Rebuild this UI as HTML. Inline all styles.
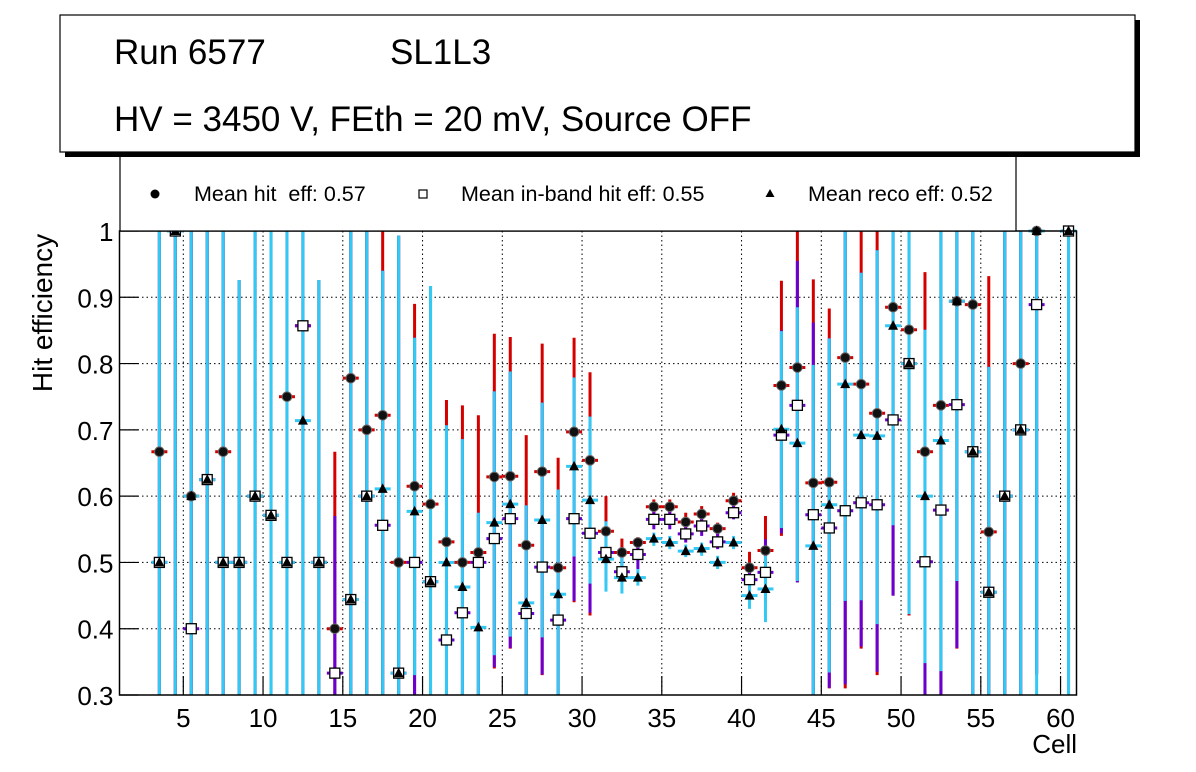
<!DOCTYPE html>
<html><head><meta charset="utf-8">
<style>
body{margin:0;background:#fff;}
svg{display:block;font-family:"Liberation Sans",sans-serif;}
</style></head>
<body>
<svg id="chart" width="1196" height="772" viewBox="0 0 1196 772" xmlns="http://www.w3.org/2000/svg">
  <rect x="0" y="0" width="1196" height="772" fill="#fff"/>
  <g id="grid"></g>
  <g id="bars"></g>
  <g id="marks"></g>
  <rect x="119.5" y="231" width="957" height="464" fill="none" stroke="#000" stroke-width="1.5"/>
  <g id="axes"></g>
  <text x="52" y="313" font-size="28" text-anchor="middle" transform="rotate(-90 52 313)" dy="0"><tspan dy="0">Hit efficiency</tspan></text>
  <text x="1077" y="753" font-size="26" text-anchor="end">Cell</text>
  <!-- legend -->
  <g>
    <rect x="120" y="140" width="896" height="91" fill="#fff" stroke="#000" stroke-width="1.2"/>
    <circle cx="155" cy="194" r="4.5" fill="#000"/>
    <text x="194" y="201" font-size="21.5" xml:space="preserve" style="white-space:pre">Mean hit&#160; eff: 0.57</text>
    <rect x="419" y="190" width="8" height="8" fill="#fff" stroke="#000" stroke-width="1.2"/>
    <text x="461" y="201" font-size="21.5">Mean in-band hit eff: 0.55</text>
    <polygon points="770,189 774.5,197 765.5,197" fill="#000"/>
    <text x="808" y="201" font-size="21.5">Mean reco eff: 0.52</text>
  </g>
  <!-- title box -->
  <g>
    <rect x="65" y="20" width="1075" height="137" fill="#000"/>
    <rect x="60" y="15" width="1075" height="137" fill="#fff" stroke="#000" stroke-width="1.2"/>
    <text x="114" y="64" font-size="35">Run 6577</text>
    <text x="390" y="64" font-size="35">SL1L3</text>
    <text x="114" y="131" font-size="35">HV = 3450 V, FEth = 20 mV, Source OFF</text>
  </g>
</svg>
<script>
const cells=[3,4,5,6,7,8,9,10,11,12,13,14,15,16,17,18,19,20,21,22,23,24,25,26,27,28,29,30,31,32,33,34,35,36,37,38,39,40,41,42,43,44,45,46,47,48,49,50,51,52,53,54,55,56,57,58,60];
const hitVal=[.667,1,.6,.625,.667,.5,.6,.571,.75,.857,.5,.4,.778,.7,.722,.5,.615,.588,.531,.5,.515,.629,.63,.526,.637,.492,.697,.654,.547,.515,.53,.584,.584,.561,.573,.551,.593,.492,.518,.767,.794,.62,.621,.809,.769,.725,.885,.851,.667,.737,.894,.889,.546,.6,.8,1,1];
const hitLo=[.3,.3,.3,.3,.3,.3,.3,.3,.3,.3,.3,.3,.3,.3,.3,.3,.3,.3,.3,.3,.3,.34,.37,.3,.33,.3,.44,.42,.5,.49,.51,.57,.57,.55,.56,.54,.58,.47,.47,.54,.47,.3,.31,.31,.37,.33,.45,.42,.3,.3,.37,.3,.3,.3,.3,.33,.3];
const hitHi=[1,1,1,1,1,.926,1,1,1,1,.926,.667,1,1,1,.993,.89,.917,.745,.737,.722,.845,.84,.692,.83,.658,.839,.787,.6,.536,.538,.595,.595,.575,.585,.56,.605,.516,.57,.925,1,.927,.883,1,1,1,1,1,.938,1,1,1,.932,1,1,1,1];
const bandVal=[.5,1,.4,.625,.5,.5,.6,.571,.5,.857,.5,.333,.444,.6,.556,.333,.5,.471,.383,.424,.5,.536,.566,.423,.493,.413,.566,.544,.515,.486,.512,.565,.565,.543,.555,.531,.575,.474,.485,.692,.737,.572,.552,.578,.59,.587,.715,.8,.501,.579,.738,.667,.455,.6,.7,.889,1];
const bandLo=[.3,.3,.3,.3,.3,.3,.3,.3,.3,.3,.3,.3,.3,.3,.3,.3,.3,.3,.3,.3,.3,.342,.371,.3,.331,.3,.442,.424,.47,.47,.49,.55,.55,.53,.54,.52,.565,.455,.44,.544,.47,.3,.311,.316,.373,.335,.45,.422,.3,.3,.371,.3,.3,.3,.3,.333,.3];
const bandHi=[1,1,1,1,1,.926,1,1,1,1,.926,.57,1,1,.94,.993,.839,.917,.707,.686,.575,.758,.788,.586,.741,.61,.779,.72,.562,.52,.53,.58,.58,.555,.57,.545,.59,.495,.535,.85,.955,.862,.838,1,.937,.971,1,1,.851,1,1,1,.795,1,1,1,1];
const recoVal=[.5,1,.6,.625,.5,.5,.6,.571,.5,.714,.5,null,.444,.6,.611,.333,.577,.471,.5,.463,.402,.56,.588,.439,.564,.452,.645,.594,.505,.477,.477,.536,.53,.517,.521,.5,.53,.45,.46,.701,.68,.525,.587,.769,.692,.691,.857,.8,.6,.684,.894,.667,.455,.6,.7,1,1];
const recoLo=[.3,.3,.3,.3,.3,.3,.3,.3,.3,.3,.3,null,.3,.3,.3,.3,.33,.3,.3,.3,.3,.36,.388,.3,.387,.3,.509,.468,.456,.453,.465,.525,.52,.508,.51,.49,.52,.43,.41,.552,.472,.3,.334,.442,.443,.407,.556,.422,.348,.336,.472,.3,.3,.3,.3,.3,.3];
const recoHi=[1,1,1,1,1,.926,1,1,1,1,.926,null,1,1,.94,.993,.839,.917,.707,.686,.575,.758,.788,.586,.741,.61,.779,.72,.562,.509,.49,.545,.54,.527,.53,.51,.54,.475,.51,.849,.885,.798,.838,1,.937,.971,1,1,.851,1,1,1,.795,1,1,1,1];
const xTicks=[5,10,15,20,25,30,35,40,45,50,55,60];
const yTicks=[0.3,0.4,0.5,0.6,0.7,0.8,0.9,1];

const NS="http://www.w3.org/2000/svg";
const X0=119.5,X1=1076.5,XMIN=1,XMAX=61,Y0=695,Y1=231,YMIN=0.3,YMAX=1;
const xs=v=>X0+(v-XMIN)/(XMAX-XMIN)*(X1-X0);
const ys=v=>Y0-(Math.max(YMIN,Math.min(YMAX,v))-YMIN)/(YMAX-YMIN)*(Y0-Y1);
function el(tag,attrs,parent){const e=document.createElementNS(NS,tag);for(const k in attrs)e.setAttribute(k,attrs[k]);parent.appendChild(e);return e;}
const grid=document.getElementById('grid'),axes=document.getElementById('axes'),bars=document.getElementById('bars'),marks=document.getElementById('marks');

xTicks.forEach(t=>{
  const g=el('line',{x1:xs(t),x2:xs(t),y1:Y1,y2:Y0,stroke:'#000','stroke-width':1,'stroke-dasharray':'1.5,3'},grid);
  
  
  const tk=el('line',{x1:xs(t),x2:xs(t),y1:Y0,y2:Y0-19,stroke:'#000','stroke-width':1.2},axes);
  
  
  const lb=el('text',{x:xs(t),y:Y0+32,'font-size':26,'text-anchor':'middle'},axes);
  lb.textContent=t;
  
  
});
yTicks.forEach(t=>{
  const g=el('line',{x1:X0,x2:X1,y1:ys(t),y2:ys(t),stroke:'#000','stroke-width':1,'stroke-dasharray':'1.5,3'},grid);
  
  
  const tk=el('line',{x1:X0,x2:X0+19,y1:ys(t),y2:ys(t),stroke:'#000','stroke-width':1.2},axes);
  
  
  const lb=el('text',{x:X0-6,y:ys(t)+10,'font-size':26,'text-anchor':'end'},axes);
  lb.textContent=(t===1?'1':t.toFixed(1));
  
  
});

const series=[
  {name:'hit',val:hitVal,lo:hitLo,hi:hitHi,color:'#d40000'},
  {name:'inband',val:bandVal,lo:bandLo,hi:bandHi,color:'#6a00d0'},
  {name:'reco',val:recoVal,lo:recoLo,hi:recoHi,color:'#33c9f5'}
];
series.forEach(s=>{
  cells.forEach((c,i)=>{
    if(s.val[i]==null)return;
    const cx=xs(c+0.5),cy=ys(s.val[i]);
    const v=el('line',{x1:cx,x2:cx,y1:ys(s.lo[i]),y2:ys(s.hi[i]),stroke:s.color,'stroke-width':3},bars);
    
    
    if(s.val[i]<=YMAX){
      const h=el('line',{x1:xs(c),x2:xs(c+1),y1:cy,y2:cy,stroke:s.color,'stroke-width':3},bars);
      
      
    }
  });
});
cells.forEach((c,i)=>{
  const cx=xs(c+0.5);
  const m=el('circle',{cx:cx,cy:ys(hitVal[i]),r:4.8,fill:'#111',stroke:'#666','stroke-width':1},marks);
  
  
});
cells.forEach((c,i)=>{
  const cx=xs(c+0.5),cy=ys(bandVal[i]);
  const m=el('rect',{x:cx-5,y:cy-5,width:10,height:10,fill:'#fff',stroke:'#000','stroke-width':1.3},marks);
  
  
});
cells.forEach((c,i)=>{
  if(recoVal[i]==null)return;
  const cx=xs(c+0.5),cy=ys(recoVal[i]);
  const m=el('polygon',{points:`${cx},${cy-5.5} ${cx+5},${cy+4} ${cx-5},${cy+4}`,fill:'#000'},marks);
  
  
});
</script>
</body></html>
